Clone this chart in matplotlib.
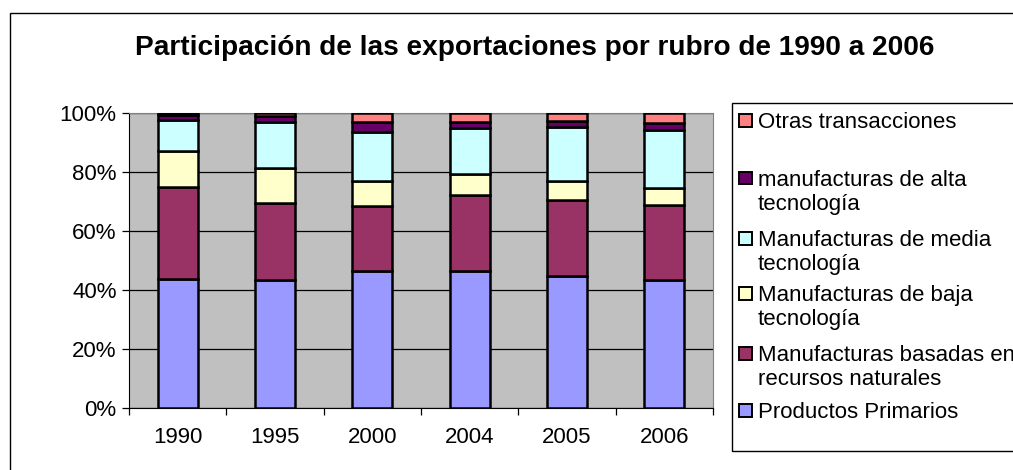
import numpy as np
import matplotlib
matplotlib.use("Agg")
import matplotlib.pyplot as plt
from matplotlib.patches import Rectangle

plt.rcParams['font.family'] = ['Liberation Sans', 'DejaVu Sans']

years = ["1990", "1995", "2000", "2004", "2005", "2006"]

# shares in %, bottom to top
primarios = [43.6, 43.5, 46.3, 46.5, 44.8, 43.5]
recursos = [31.4, 26.0, 22.1, 25.6, 25.7, 25.3]
baja = [12.1, 11.9, 8.5, 7.3, 6.6, 5.7]
media = [10.4, 15.6, 16.7, 15.5, 18.0, 19.6]
alta = [1.8, 1.9, 3.2, 2.0, 2.3, 2.4]
otras = [0.7, 1.1, 3.2, 3.1, 2.6, 3.5]

series_names = ["Productos Primarios",
                "Manufacturas basadas en\nrecursos naturales",
                "Manufacturas de baja\ntecnología",
                "Manufacturas de media\ntecnología",
                "manufacturas de alta\ntecnología",
                "Otras transacciones"]
series_vals = [primarios, recursos, baja, media, alta, otras]
colors = ["#9999FF", "#993366", "#FFFFCC", "#CCFFFF", "#660066", "#FF8080"]

W, H = 1013, 470
fig = plt.figure(figsize=(W / 100, H / 100), dpi=100)

def fx(px):
    return px / W

def fy(py):
    return 1 - py / H

# outer chart border
fig.patches.append(Rectangle((fx(10), -0.1), 1.2, fy(13) + 0.1, transform=fig.transFigure,
                             fill=False, edgecolor="black", linewidth=1.0))

ax = fig.add_axes([fx(129), fy(408), fx(713) - fx(129), fy(113) - fy(408)])
ax.set_facecolor("#C0C0C0")

x = np.arange(len(years))
bottom = np.zeros(len(years))
for vals, col in zip(series_vals, colors):
    v = np.array(vals)
    ax.bar(x, v, 0.41, bottom=bottom, color=col, edgecolor="black", linewidth=1.8, zorder=3)
    bottom += v

ax.set_xlim(-0.5, len(years) - 0.5)
ax.set_ylim(0, 100)
ax.set_yticks(np.arange(0, 101, 20))
ax.set_yticklabels([f"{v}%" for v in range(0, 101, 20)], fontsize=16)
ax.yaxis.grid(True, color="black", linewidth=0.9, zorder=1)
ax.tick_params(axis="y", direction="out", length=5, width=0.9, pad=4)

ax.set_xticks(np.arange(-0.5, len(years)), minor=False)
ax.set_xticklabels([])
ax.set_xticks(x, minor=True)
ax.set_xticklabels(years, minor=True, fontsize=16)
ax.tick_params(axis="x", which="major", direction="out", length=5, width=0.9)
ax.tick_params(axis="x", which="minor", length=0, pad=14)

for s in ["top", "right"]:
    ax.spines[s].set_color("#808080")
for s in ["left", "bottom"]:
    ax.spines[s].set_color("black")

fig.text(fx(535), fy(48), "Participación de las exportaciones por rubro de 1990 a 2006",
         ha="center", va="center", fontsize=20.2, fontweight="bold")

# legend box
fig.patches.append(Rectangle((fx(732), fy(451)), 1.0, fy(103) - fy(451), transform=fig.transFigure,
                             fill=False, edgecolor="black", linewidth=1.0))
legend_y = [410, 353, 293, 238, 178, 120]
for name, col, ly in zip(series_names, colors, legend_y):
    fig.patches.append(Rectangle((fx(739), fy(ly + 6.5)), fx(13), fy(ly - 6.5) - fy(ly + 6.5),
                                 transform=fig.transFigure, facecolor=col,
                                 edgecolor="black", linewidth=1.4))
    for i, line in enumerate(name.split("\n")):
        fig.text(fx(758), fy(ly + 8 + 24 * i), line, ha="left", va="baseline", fontsize=16)

fig.savefig("out.png", dpi=100)
